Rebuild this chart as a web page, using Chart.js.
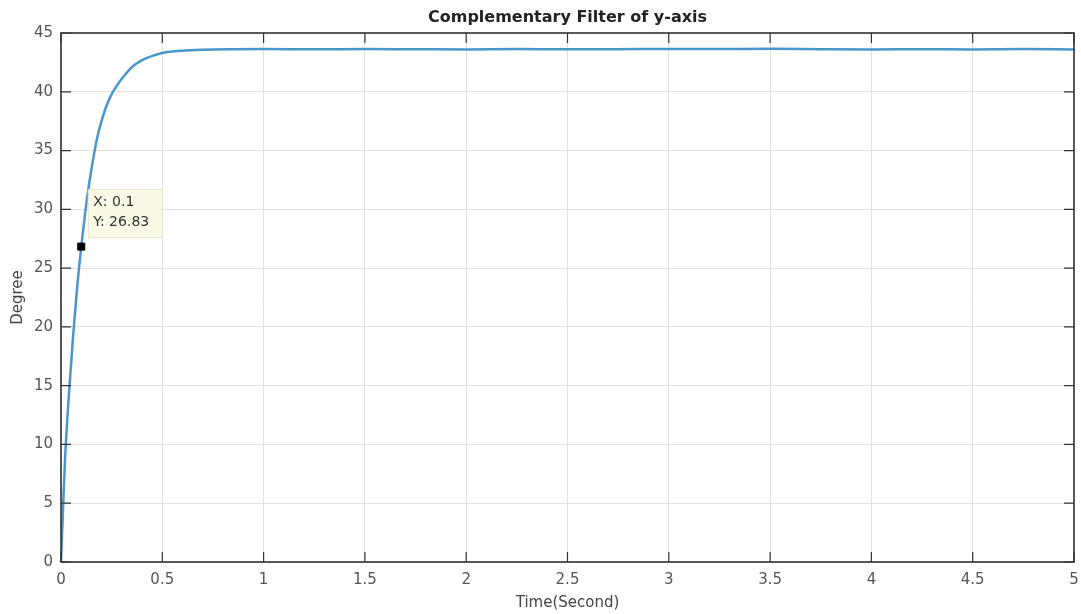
<!DOCTYPE html>
<html>
<head>
<meta charset="utf-8">
<script src="https://cdn.jsdelivr.net/npm/chart.js@4/dist/chart.umd.min.js"></script>
<style>
  html, body { margin: 0; padding: 0; background: #fff; }
  #wrap { width: 1081px; height: 614px; position: relative; }
</style>
</head>
<body>
<div id="wrap"><canvas id="myChart"></canvas></div>
<script>
// 그림에서 읽은 값
const timeSec = [0, 0.01, 0.02, 0.04, 0.06, 0.08, 0.1, 0.12, 0.14, 0.16, 0.18, 0.2, 0.22, 0.25, 0.275, 0.3, 0.35, 0.4, 0.45, 0.5, 0.6, 0.7, 0.85, 1.0, 1.25, 1.5, 1.75, 2.0, 2.25, 2.5, 2.75, 3.0, 3.25, 3.5, 3.75, 4.0, 4.25, 4.5, 4.75, 5.0];
const degree = [0, 4.5, 8.8, 14.5, 19.3, 23.4, 26.83, 29.8, 32.3, 34.4, 36.2, 37.5, 38.6, 39.8, 40.5, 41.1, 42.1, 42.7, 43.05, 43.3, 43.5, 43.58, 43.62, 43.63, 43.61, 43.64, 43.62, 43.6, 43.63, 43.61, 43.62, 43.64, 43.63, 43.65, 43.62, 43.6, 43.62, 43.6, 43.63, 43.6];
const tipX = 0.1;
const tipY = 26.83;
const xTicks = [0, 0.5, 1, 1.5, 2, 2.5, 3, 3.5, 4, 4.5, 5];
const yTicks = [0, 5, 10, 15, 20, 25, 30, 35, 40, 45];

const FONT = "'DejaVu Sans', Verdana, sans-serif";
const AXIS_COLOR = "#333";

// 박스 테두리와 안쪽 눈금 (MATLAB 스타일)
const boxPlugin = {
  id: "box",
  afterDatasetsDraw(chart) {
    const { ctx, chartArea: a, scales } = chart;
    ctx.save();
    ctx.strokeStyle = AXIS_COLOR;
    ctx.lineWidth = 1.6;
    ctx.strokeRect(a.left, a.top, a.right - a.left, a.bottom - a.top);
    ctx.lineWidth = 1.2;
    ctx.beginPath();
    xTicks.forEach((v) => {
      const px = scales.x.getPixelForValue(v);
      ctx.moveTo(px, a.bottom); ctx.lineTo(px, a.bottom - 10);
      ctx.moveTo(px, a.top); ctx.lineTo(px, a.top + 10);
    });
    yTicks.forEach((v) => {
      const py = scales.y.getPixelForValue(v);
      ctx.moveTo(a.left, py); ctx.lineTo(a.left + 10, py);
      ctx.moveTo(a.right, py); ctx.lineTo(a.right - 10, py);
    });
    ctx.stroke();
    ctx.restore();
  },
  afterDraw(chart) {
    // 데이터 팁 상자
    const { ctx, scales } = chart;
    const px = scales.x.getPixelForValue(tipX);
    const py = scales.y.getPixelForValue(tipY);
    const bx = px + 7, by = py - 57, bw = 74, bh = 48;
    ctx.save();
    ctx.fillStyle = "rgba(250, 250, 230, 0.95)";
    ctx.strokeStyle = "#e4e4cc";
    ctx.lineWidth = 1;
    ctx.fillRect(bx, by, bw, bh);
    ctx.strokeRect(bx, by, bw, bh);
    ctx.fillStyle = "#333";
    ctx.font = "14px " + FONT;
    ctx.textBaseline = "middle";
    ctx.fillText("X: " + tipX, bx + 5, by + 13);
    ctx.fillText("Y: " + tipY.toFixed(2), bx + 5, by + 33);
    ctx.restore();
  },
};

const ctx = document.getElementById("myChart").getContext("2d");

const chart = new Chart(ctx, {
  type: "scatter",
  data: {
    datasets: [
      {
        label: "y-axis",
        data: timeSec.map((t, i) => ({ x: t, y: degree[i] })),
        showLine: true,
        borderColor: "rgb(74, 150, 204)",
        borderWidth: 2.5,
        pointRadius: 0,
        cubicInterpolationMode: "monotone",
        order: 2,
      },
      {
        label: "tip",
        data: [{ x: tipX, y: tipY }],
        pointStyle: "rect",
        pointRadius: 5,
        backgroundColor: "#000",
        borderColor: "#000",
        borderWidth: 1,
        order: 1,
      },
    ],
  },
  options: {
    responsive: true,
    maintainAspectRatio: false,
    animation: false,
    layout: { padding: { top: 0, right: 7, bottom: 0, left: 0 } },
    plugins: {
      legend: { display: false },
      tooltip: { enabled: false },
      title: {
        display: true,
        fullSize: false,
        text: "Complementary Filter of y-axis",
        color: "#222",
        font: { family: FONT, size: 16, weight: "bold", lineHeight: 1.2 },
        padding: { top: 8, bottom: 5.8 },
      },
    },
    scales: {
      x: {
        type: "linear",
        min: 0,
        max: 5,
        afterFit: (scale) => {
          scale.height = 52;
          scale.paddingLeft = 0;
          scale.paddingRight = 0;
        },
        afterBuildTicks: (scale) => { scale.ticks = xTicks.map((v) => ({ value: v })); },
        border: { display: false },
        grid: { color: "#e0e0e0", lineWidth: 1, drawTicks: false },
        ticks: {
          color: "#555",
          font: { family: FONT, size: 15 },
          padding: 9,
          maxRotation: 0,
          callback: (v) => String(v),
        },
        title: {
          display: true,
          text: "Time(Second)",
          color: "#444",
          font: { family: FONT, size: 15 },
          padding: { top: 0, bottom: 2 },
        },
      },
      y: {
        type: "linear",
        min: 0,
        max: 45,
        afterFit: (scale) => { scale.width = 61; },
        afterBuildTicks: (scale) => { scale.ticks = yTicks.map((v) => ({ value: v })); },
        border: { display: false },
        grid: { color: "#e0e0e0", lineWidth: 1, drawTicks: false },
        ticks: {
          color: "#555",
          font: { family: FONT, size: 15 },
          padding: 8,
        },
        title: {
          display: true,
          text: "Degree",
          color: "#444",
          font: { family: FONT, size: 15 },
          padding: { top: 9, bottom: 0 },
        },
      },
    },
  },
  plugins: [boxPlugin],
});
</script>
</body>
</html>
